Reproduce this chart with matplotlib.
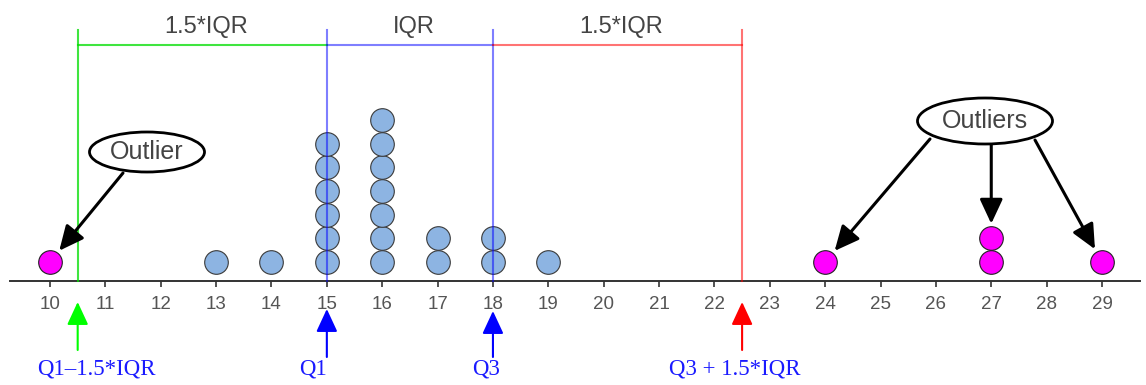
import matplotlib.pyplot as plt
from matplotlib.patches import Ellipse

plt.rcParams['font.family'] = ['Liberation Sans', 'DejaVu Sans']

# data
values = [10, 13, 14, 15, 15, 15, 15, 15, 15, 16, 16, 16, 16, 16, 16, 16,
          17, 17, 18, 18, 19, 24, 27, 27, 29]
q1 = 15
q3 = 18
ticks = list(range(10, 30))
bottom_labels = ['Q1\u20131.5*IQR', 'Q1', 'Q3', 'Q3 + 1.5*IQR']

iqr = q3 - q1
low_fence = q1 - 1.5 * iqr
high_fence = q3 + 1.5 * iqr

# stack level of each dot
levels = []
seen = {}
for v in values:
    levels.append(seen.get(v, 0))
    seen[v] = seen.get(v, 0) + 1
is_out = [v < low_fence or v > high_fence for v in values]

W, H = 1146, 385
UNIT = 55.368   # pixels per x unit
STEP = 23.7     # pixels per stacked dot
BASE = 262      # pixel row of first dot level


def py(p):
    # pixel row (from top) -> data y
    return (BASE - p) / STEP


def px(p):
    # pixel column -> data x
    return 10 + (p - 50) / UNIT


fig = plt.figure(figsize=(W / 100, H / 100), dpi=100)
ax = fig.add_axes([10 / W, 0, 1130 / W, 1])
ax.set_xlim(px(10), px(1140))
ax.set_ylim(py(H), py(0))
for s in ['top', 'left', 'right']:
    ax.spines[s].set_visible(False)
ax.spines['bottom'].set_position(('data', py(281)))
ax.spines['bottom'].set_color('#333333')
ax.spines['bottom'].set_linewidth(1.4)
ax.set_yticks([])
ax.set_xticks(ticks)
ax.set_xticklabels([str(t) for t in ticks])
ax.tick_params(axis='x', direction='out', length=4.5, width=1.3, color='#444444',
               labelcolor='#555555', labelsize=13.5, pad=6)

# dots
xin = [v for v, o in zip(values, is_out) if not o]
yin = [l for l, o in zip(levels, is_out) if not o]
xout = [v for v, o in zip(values, is_out) if o]
yout = [l for l, o in zip(levels, is_out) if o]
ax.scatter(xin, yin, s=17 ** 2, c='#8db4e2', edgecolors='#3a3a3a', linewidths=0.8, zorder=3)
ax.scatter(xout, yout, s=17 ** 2, c='#ff00ff', edgecolors='#222222', linewidths=0.8, zorder=3)

# fences and brackets
fence_x = [low_fence, q1, q3, high_fence]
fence_c = [('#00dd00', 0.75), ('#0000ff', 0.5), ('#0000ff', 0.5), ('#ff0000', 0.55)]
for fx, (c, a) in zip(fence_x, fence_c):
    ax.plot([fx, fx], [py(30), py(281)], color=c, alpha=a, lw=1.5, zorder=4)
segs = [(low_fence, q1), (q1, q3), (q3, high_fence)]
seg_c = fence_c[0:2] + [fence_c[3]]
seg_t = ['1.5*IQR', 'IQR', '1.5*IQR']
for (a0, a1), (c, a), t in zip(segs, seg_c, seg_t):
    ax.plot([a0, a1], [py(45), py(45)], color=c, alpha=a, lw=1.5, zorder=4)
    ax.text((a0 + a1) / 2 + 0.07, py(27), t, ha='center', va='center',
            fontsize=17, color='#444444')

# bottom arrows and labels
arrow_c = ['#00ff00', '#0000ff', '#0000ff', '#ff0000']
tips = [302, 309, 311, 302]
tails = [350, 357, 357, 350]
lab_dx = [0.33, -0.25, -0.13, -0.13]
for fx, c, tp, tl, lab, dx in zip(fence_x, arrow_c, tips, tails, bottom_labels, lab_dx):
    ax.annotate('', xy=(fx, py(tp)), xytext=(fx, py(tl)),
                arrowprops=dict(arrowstyle='-|>,head_length=1.4,head_width=0.65',
                                color=c, lw=1.5, shrinkA=0, shrinkB=0,
                                mutation_scale=10))
    ax.text(fx + dx, py(369), lab, ha='center', va='center', fontsize=16.5,
            color='#1a1aff', family=['Liberation Serif', 'DejaVu Serif'])


# callouts
def callout(cx, cy, w, h, text):
    ax.add_patch(Ellipse((px(cx), py(cy)), w / UNIT, h / STEP, facecolor='white',
                         edgecolor='black', lw=2.0, zorder=5))
    ax.text(px(cx), py(cy), text, ha='center', va='center', fontsize=18,
            color='#444444', zorder=6)


def pointer(sx, sy, v, lvl):
    ax.annotate('', xy=(v, lvl), xytext=(sx, py(sy)),
                arrowprops=dict(arrowstyle='-|>,head_length=1.5,head_width=0.7',
                                color='black', lw=2.2, shrinkA=0, shrinkB=10.5,
                                mutation_scale=10), zorder=4)


callout(147, 152, 115, 40, 'Outlier')
callout(985, 121, 135, 46, 'Outliers')

# pointer start points (pixel rows; x in data units)
starts = {10: (px(123), 173), 24: (px(930), 139), 27: (27, 144), 29: (px(1035), 140)}
for v in starts:
    top = max(l for vv, l in zip(values, levels) if vv == v)
    pointer(starts[v][0], starts[v][1], v, top)

plt.savefig('out.png', dpi=100, facecolor='white')
